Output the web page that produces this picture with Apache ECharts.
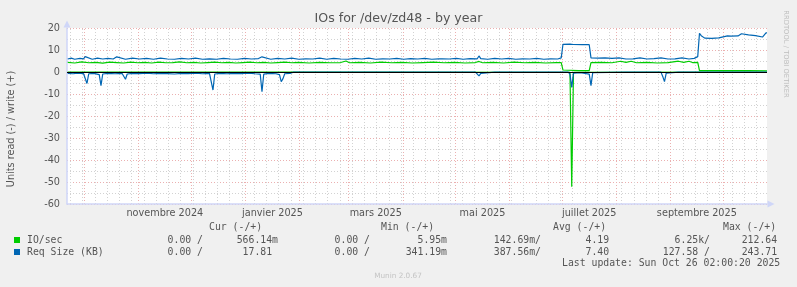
<!DOCTYPE html>
<html><head><meta charset="utf-8">
<script src="https://cdn.jsdelivr.net/npm/echarts@6/dist/echarts.min.js"></script>
<style>html,body{margin:0;padding:0;background:#F0F0F0;}#c{width:797px;height:287px;}</style>
</head><body><div id="c"></div>
<script>
// ---------- data ----------
const titleText = 'IOs for /dev/zd48 - by year';
const yName = 'Units read (-) / write (+)';
const xStart = '2024-09-21T02:00:20';
const xEnd = '2025-10-26T02:00:20';
const labelMonths = ['2024-11', '2025-01', '2025-03', '2025-05', '2025-07', '2025-09'];
const monthLabels = ['novembre 2024', 'janvier 2025', 'mars 2025', 'mai 2025', 'juillet 2025', 'septembre 2025'];

// IO/sec write (+)
const ioWrite = [
['2024-09-21',4.4],['2024-09-25',4.1],['2024-09-29',4.6],['2024-10-03',4.2],['2024-10-07',4.4],['2024-10-11',4.0],
['2024-10-15',4.5],['2024-10-19',4.3],['2024-10-23',4.1],['2024-10-27',4.5],['2024-10-31',4.2],['2024-11-04',4.4],
['2024-11-08',4.1],['2024-11-12',4.5],['2024-11-16',4.2],['2024-11-20',4.3],['2024-11-24',4.6],['2024-11-28',4.2],
['2024-12-02',4.4],['2024-12-06',4.1],['2024-12-10',4.3],['2024-12-14',4.5],['2024-12-18',4.2],['2024-12-22',4.4],
['2024-12-26',4.1],['2024-12-30',4.3],['2025-01-03',4.5],['2025-01-07',4.2],['2025-01-11',4.4],['2025-01-15',4.1],
['2025-01-19',4.3],['2025-01-23',4.5],['2025-01-27',4.2],['2025-01-31',4.4],['2025-02-06',4.1],['2025-02-12',4.4],
['2025-02-18',4.2],['2025-02-24',4.3],['2025-02-27',5.0],['2025-03-01',4.2],['2025-03-07',4.4],['2025-03-13',4.1],
['2025-03-19',4.5],['2025-03-25',4.2],['2025-03-31',4.4],['2025-04-06',4.1],['2025-04-12',4.3],['2025-04-18',4.5],
['2025-04-24',4.2],['2025-04-30',4.4],['2025-05-06',4.1],['2025-05-12',4.3],['2025-05-14',4.8],['2025-05-16',4.2],
['2025-05-22',4.4],['2025-05-28',4.1],['2025-06-03',4.5],['2025-06-09',4.2],['2025-06-15',4.4],['2025-06-21',4.1],
['2025-06-27',4.3],['2025-06-30',4.3],['2025-07-01',0.9],['2025-07-02',0.6],['2025-07-10',0.6],['2025-07-16',0.6],
['2025-07-17',4.3],['2025-07-23',4.4],['2025-07-29',4.2],['2025-08-03',4.9],['2025-08-06',4.4],['2025-08-09',4.9],
['2025-08-12',4.2],['2025-08-18',4.4],['2025-08-24',4.1],['2025-08-30',4.3],['2025-09-05',4.9],['2025-09-08',4.4],
['2025-09-11',4.9],['2025-09-13',4.3],['2025-09-16',4.4],['2025-09-17',0.6],['2025-09-25',0.6],['2025-10-05',0.6],
['2025-10-15',0.6],['2025-10-26T02:00',0.57]
];
// IO/sec read (-), magnitudes
const ioRead = [
['2024-09-21',0.1],['2025-01-09',0.1],['2025-01-10',0.5],['2025-01-11',0.1],['2025-01-20',0.1],['2025-01-21',0.5],
['2025-01-22',0.1],['2025-07-05',0.2],['2025-07-06',52.1],['2025-07-07',0.2],['2025-10-26T02:00',0.0]
];
// Req Size write (+)
const reqWrite = [
['2024-09-21',5.9],['2024-09-23',6.3],['2024-09-25',5.8],['2024-09-28',6.2],['2024-09-30',6.0],['2024-10-01',7.0],
['2024-10-02',6.1],['2024-10-05',5.8],['2024-10-08',6.3],['2024-10-11',5.9],['2024-10-14',6.2],['2024-10-17',5.9],
['2024-10-19',6.9],['2024-10-20',6.0],['2024-10-24',5.8],['2024-10-28',6.3],['2024-11-01',5.9],['2024-11-05',6.2],
['2024-11-09',5.8],['2024-11-13',6.3],['2024-11-17',5.9],['2024-11-21',5.8],['2024-11-25',6.2],['2024-11-29',5.9],
['2024-12-03',6.3],['2024-12-07',5.8],['2024-12-11',6.0],['2024-12-15',5.8],['2024-12-19',6.2],['2024-12-23',5.9],
['2024-12-27',5.8],['2024-12-31',6.2],['2025-01-04',5.9],['2025-01-08',6.1],['2025-01-10',6.9],['2025-01-11',6.0],
['2025-01-15',5.8],['2025-01-19',6.2],['2025-01-23',5.9],['2025-01-27',6.3],['2025-01-31',5.8],['2025-02-04',6.0],
['2025-02-08',5.9],['2025-02-12',6.3],['2025-02-16',5.8],['2025-02-20',6.2],['2025-02-24',5.9],['2025-02-28',5.8],
['2025-03-04',6.2],['2025-03-08',5.9],['2025-03-12',6.3],['2025-03-16',5.8],['2025-03-20',6.0],['2025-03-24',5.9],
['2025-03-28',6.2],['2025-04-01',5.8],['2025-04-05',6.1],['2025-04-09',5.9],['2025-04-13',6.2],['2025-04-17',5.8],
['2025-04-21',6.0],['2025-04-22',6.7],['2025-04-23',6.0],['2025-04-27',5.9],['2025-05-01',6.2],['2025-05-05',5.8],
['2025-05-09',6.1],['2025-05-13',6.0],['2025-05-14',7.3],['2025-05-15',6.1],['2025-05-19',5.8],['2025-05-23',6.2],
['2025-05-27',5.9],['2025-05-31',6.2],['2025-06-04',5.8],['2025-06-08',6.0],['2025-06-12',5.9],['2025-06-16',6.2],
['2025-06-20',5.8],['2025-06-24',6.0],['2025-06-28',5.9],['2025-06-30',6.4],['2025-07-01',12.6],['2025-07-05',12.7],
['2025-07-06',13.1],['2025-07-07',12.5],['2025-07-12',12.4],['2025-07-16',12.4],['2025-07-17',6.4],['2025-07-21',6.3],
['2025-07-25',6.4],['2025-07-29',6.2],['2025-08-02',6.4],['2025-08-06',5.9],['2025-08-10',6.0],['2025-08-14',6.4],
['2025-08-18',5.9],['2025-08-22',6.1],['2025-08-26',6.4],['2025-08-30',5.9],['2025-09-03',6.0],['2025-09-07',6.4],
['2025-09-11',5.9],['2025-09-14',6.2],['2025-09-16',7.0],['2025-09-17',17.6],['2025-09-18',16.5],['2025-09-20',15.4],
['2025-09-24',15.3],['2025-09-28',15.5],['2025-09-29',16.3],['2025-10-03',16.4],['2025-10-04',15.6],['2025-10-05',16.3],
['2025-10-09',16.4],['2025-10-11',17.4],['2025-10-12',16.6],['2025-10-15',16.9],['2025-10-19',16.5],['2025-10-23',15.9],
['2025-10-25',17.8],['2025-10-26T02:00',17.81]
];
// Req Size read (-), magnitudes
const reqRead = [
['2024-09-21',0.6],['2024-09-24',0.8],['2024-09-27',0.5],['2024-09-30',0.7],['2024-10-01',1.0],['2024-10-02',5.2],
['2024-10-03',0.8],['2024-10-06',0.6],['2024-10-09',1.2],['2024-10-10',6.2],['2024-10-11',0.9],['2024-10-14',0.6],
['2024-10-18',0.8],['2024-10-22',0.6],['2024-10-23',1.5],['2024-10-24',3.3],['2024-10-25',0.9],['2024-10-28',0.6],
['2024-11-01',0.7],['2024-11-05',0.5],['2024-11-09',0.8],['2024-11-13',0.6],['2024-11-17',0.7],['2024-11-21',0.9],
['2024-11-25',0.6],['2024-11-29',0.7],['2024-12-03',0.5],['2024-12-07',0.8],['2024-12-11',0.6],['2024-12-12',1.2],
['2024-12-13',8.2],['2024-12-14',0.9],['2024-12-17',0.6],['2024-12-21',0.8],['2024-12-25',0.6],['2024-12-29',0.7],
['2025-01-02',0.5],['2025-01-06',0.8],['2025-01-09',1.0],['2025-01-10',9.0],['2025-01-11',1.0],['2025-01-14',0.6],
['2025-01-18',0.8],['2025-01-20',1.2],['2025-01-21',4.4],['2025-01-22',3.0],['2025-01-23',0.8],['2025-01-26',0.6],
['2025-01-28',0.05],['2025-05-12',0.05],['2025-05-13',0.8],['2025-05-14',1.8],['2025-05-15',0.6],['2025-05-16',0.05],
['2025-05-23',0.05],['2025-05-24',0.6],['2025-05-25',0.05],['2025-05-30',0.05],['2025-05-31',0.5],['2025-06-01',0.05],
['2025-07-04',0.05],['2025-07-05',1.0],['2025-07-06',7.0],['2025-07-07',0.5],['2025-07-11',0.35],['2025-07-16',1.0],
['2025-07-17',6.2],['2025-07-18',0.3],['2025-07-19',0.05],['2025-08-06',0.05],['2025-08-07',0.5],['2025-08-08',0.05],
['2025-08-26',0.05],['2025-08-27',2.0],['2025-08-28',4.4],['2025-08-29',0.5],['2025-08-30',0.05],['2025-09-05',0.05],
['2025-09-06',0.5],['2025-09-07',0.05],['2025-09-15',0.05],['2025-09-16',0.5],['2025-09-17',0.05],['2025-09-23',0.05],
['2025-09-24',0.5],['2025-09-25',0.05],['2025-10-26T02:00',0.0]
];

// legend table
const legendNames = ['IO/sec', 'Req Size (KB)'];
const legendColors = ['#00CC00', '#0066B3'];
const legendHeaders = ['Cur (-/+)', 'Min (-/+)', 'Avg (-/+)', 'Max (-/+)'];
const legendCur = [['0.00 /', '566.14m'], ['0.00 /', '17.81 ']];
const legendMin = [['0.00 /', '5.95m'], ['0.00 /', '341.19m']];
const legendAvg = [['142.69m/', '4.19 '], ['387.56m/', '7.40 ']];
const legendMax = [['6.25k/', '212.64 '], ['127.58 /', '243.71 ']];
const lastUpdate = 'Last update: Sun Oct 26 02:00:20 2025';
const footer = 'Munin 2.0.67';
const watermark = 'RRDTOOL / TOBI OETIKER';

// ---------- helpers ----------
function ts(s) {
  const [d, t] = s.split('T');
  const [Y, M, D] = d.split('-').map(Number);
  if (!t) return Date.UTC(Y, M - 1, D || 1, 12, 0, 0);
  const [h, m, sec] = t.split(':').map(Number);
  return Date.UTC(Y, M - 1, D, h || 0, m || 0, sec || 0);
}
const DAY = 86400000;
const tMin = ts(xStart), tMax = ts(xEnd);
const toPos = arr => arr.map(p => [ts(p[0]), p[1]]);
const toNeg = arr => arr.map(p => [ts(p[0]), -p[1]]);

// grid positions (month starts and Mondays)
const monthStarts = [];
for (let y = 2024, m = 9; y < 2026; ) {
  const t = Date.UTC(y, m, 1);
  if (t > tMax) break;
  if (t >= tMin) monthStarts.push(t);
  m++; if (m > 11) { m = 0; y++; }
}
const mondays = [];
for (let t = Date.UTC(2024, 8, 23); t <= tMax; t += 7 * DAY) mondays.push(t);
const labelPos = labelMonths.map(s => {
  const [Y, M] = s.split('-').map(Number);
  return (Date.UTC(Y, M - 1, 1) + Date.UTC(Y, M, 1)) / 2;
});

const FONT = '"DejaVu Sans", Verdana, sans-serif';
const MONO = '"DejaVu Sans Mono", monospace';
const TXT = '#555555';
const MINOR = '#D2D2D2';
const MAJOR = '#EBB0B0';

const chart = echarts.init(document.getElementById('c'), null, { renderer: 'canvas' });

const graphics = [];
function txt(text, x, y, opt) {
  graphics.push({
    type: 'text', x: x, y: y, rotation: opt.rotation || 0, silent: true,
    style: Object.assign({ text: text, fill: TXT, fontFamily: FONT, fontSize: 9.7,
      align: 'left', verticalAlign: 'middle' }, opt.style || {})
  });
}
txt(titleText, 398.5, 19, { style: { fontSize: 12.6, align: 'center' } });
txt(yName, 11, 129, { rotation: Math.PI / 2, style: { align: 'center' } });
txt(watermark, 786, 54, { rotation: -Math.PI / 2, style: { fontSize: 6.8, fill: '#bdbdbd', align: 'center' } });
txt(footer, 398, 276, { style: { fontSize: 7.3, fill: '#c4c4c4', align: 'center' } });

const hdrX = [209, 381, 553, 723];
legendHeaders.forEach((h, i) => txt(h, hdrX[i], 227, { style: { fontFamily: MONO, fontSize: 9.8 } }));
const rowY = [240, 252];
const colRight = [[203, 278], [370, 447], [541, 615], [710, 783]];
const cols = [legendCur, legendMin, legendAvg, legendMax];
legendNames.forEach((n, r) => {
  graphics.push({ type: 'rect', silent: true, shape: { x: 14, y: rowY[r] - 3, width: 6, height: 6 },
    style: { fill: legendColors[r] } });
  txt(n, 27, rowY[r], { style: { fontFamily: MONO, fontSize: 9.8 } });
  cols.forEach((c, ci) => {
    txt(c[r][0], colRight[ci][0], rowY[r], { style: { fontFamily: MONO, fontSize: 9.8, align: 'right' } });
    txt(c[r][1], colRight[ci][1], rowY[r], { style: { fontFamily: MONO, fontSize: 9.8, align: 'right' } });
  });
});
txt(lastUpdate, 562, 263.5, { style: { fontFamily: MONO, fontSize: 9.8 } });

const lineSeries = (name, data, color, z) => ({
  name: name, type: 'line', data: data, showSymbol: false, symbol: 'none', z: z,
  lineStyle: { color: color, width: 1.2 }, itemStyle: { color: color }, silent: true
});

chart.setOption({
  animation: false,
  backgroundColor: '#F0F0F0',
  grid: { left: 67, right: 30, top: 28, bottom: 83, show: true, backgroundColor: '#FFFFFF', borderWidth: 0 },
  xAxis: {
    type: 'value', min: tMin, max: tMax, z: 1,
    axisLine: { show: true, onZero: false, lineStyle: { color: '#CFD6F8', width: 1.5 },
      symbol: ['none', 'triangle'], symbolSize: [7, 7], symbolOffset: [0, 4] },
    axisTick: { show: false },
    splitLine: { show: false },
    axisLabel: { show: true, customValues: labelPos, margin: 4, color: TXT, fontFamily: FONT, fontSize: 9.7,
      formatter: v => { const i = labelPos.indexOf(v); return i >= 0 ? monthLabels[i] : ''; } }
  },
  yAxis: {
    type: 'value', min: -60, max: 20, interval: 10,
    axisLine: { show: true, lineStyle: { color: '#CFD6F8', width: 1.5 },
      symbol: ['none', 'triangle'], symbolSize: [7, 7], symbolOffset: [0, 4] },
    axisTick: { show: false },
    axisLabel: { color: TXT, fontFamily: FONT, fontSize: 9.7, margin: 7 },
    splitLine: { show: true, lineStyle: { color: MAJOR, width: 1, type: [1, 2] } },
    minorTick: { show: false, splitNumber: 2 },
    minorSplitLine: { show: true, lineStyle: { color: MINOR, width: 1, type: [1, 2] } }
  },
  series: [
    {
      name: 'grid', type: 'line', data: [], z: 1, silent: true,
      markLine: {
        silent: true, symbol: ['none', 'none'], z: 1, animation: false,
        label: { show: false },
        data: mondays.map(t => ({ xAxis: t, lineStyle: { color: MINOR, width: 1, type: [1, 2] } }))
          .concat(monthStarts.map(t => ({ xAxis: t, lineStyle: { color: MAJOR, width: 1, type: [1, 2] } })))
      }
    },
    lineSeries('IO/sec read', toNeg(ioRead), '#00CC00', 3),
    lineSeries('IO/sec write', toPos(ioWrite), '#00CC00', 3),
    lineSeries('Req Size read', toNeg(reqRead), '#0066B3', 4),
    lineSeries('Req Size write', toPos(reqWrite), '#0066B3', 4),
    {
      name: 'zero', type: 'line', data: [], z: 10, silent: true,
      markLine: { silent: true, symbol: ['none', 'none'], z: 10, animation: false, label: { show: false },
        lineStyle: { color: '#000000', width: 1, type: 'solid' }, data: [{ yAxis: 0 }] }
    }
  ],
  graphic: graphics
});
</script></body></html>
